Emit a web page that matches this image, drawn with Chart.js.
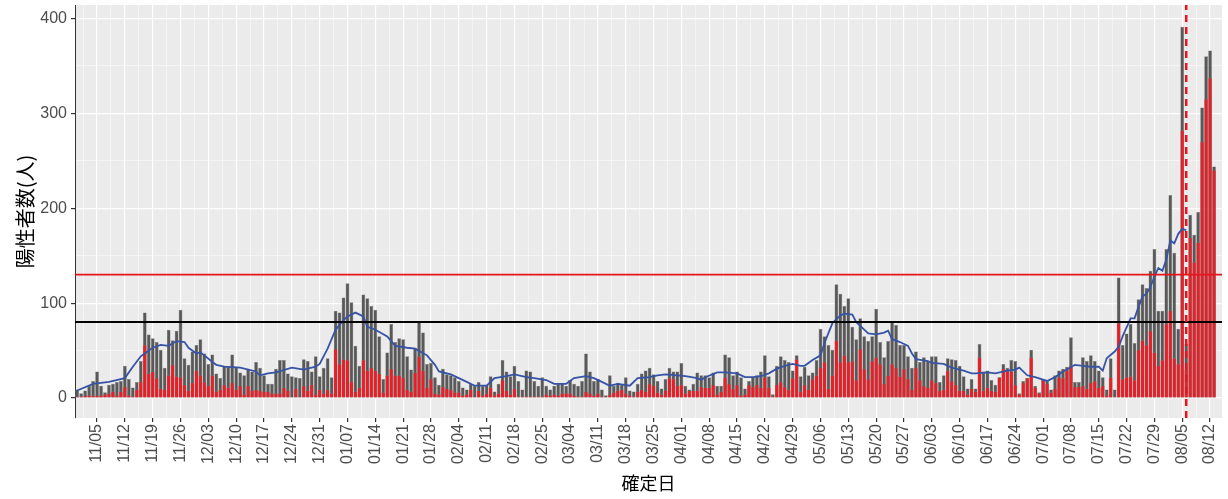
<!DOCTYPE html>
<html lang="ja">
<head>
<meta charset="utf-8">
<title>陽性者数</title>
<script src="https://cdn.jsdelivr.net/npm/chart.js@4.4.1/dist/chart.umd.min.js"></script>
<style>
  body { margin: 0; background: #fff; }
  canvas { display: block; }
</style>
</head>
<body>
<canvas id="chart" width="1228" height="499"></canvas>
<script>
// ---- data ----
var startDate = '2020-10-31';   // first bar
var dayCount = 287;             // 10/31 .. 08/13

// daily positives (grey bars)
var totalCases = [
  9,
  5,8,13,18,28,13,6,14,15,17, 18,34,20,11,17,39,90,67,63,59, 51,32,72,61,71,93,42,35,49,56,
  62,47,36,46,26,21,34,33,46,33, 27,24,31,28,38,32,24,15,15,31, 40,40,26,23,22,21,41,39,28,44, 23,
  32,42,22,92,90,106,121,101,55,34, 109,105,97,93,65,20,48,78,59,63, 62,44,30,53,80,69,36,37,22,14, 31,
  25,24,22,18,11,9,15,13,17,13, 14,23,7,15,40,28,23,34,18,9, 29,28,18,13,22,13,9,13,
  15,16,13,19,15,13,18,47,28,18, 20,9,3,24,13,16,14,22,8,7, 15,26,29,32,25,18,10,20,32,28, 28,
  37,13,9,15,27,24,24,22,27,13, 13,46,43,24,28,22,10,18,22,24, 28,45,23,4,34,44,40,38,29,45,
  23,33,24,27,40,73,65,56,51,120, 110,97,105,75,62,84,65,60,65,94, 59,43,60,81,77,56,56,44,32,49, 38,
  43,39,44,44,17,24,42,41,40,34, 23,10,20,10,57,28,29,19,14,22, 36,32,40,39,5,18,21,51,13,6,
  19,18,9,24,29,31,33,64,17,17, 43,39,45,39,29,22,9,42,9,127, 56,68,78,58,104,120,116,134,157,92, 92,
  157,214,153,73,391,57,193,172,196,306, 360,366,244
];

// red part of each bar
var redCases = [
  2,
  2,3,3,3,3,3,4,5,7,3, 7,12,3,2,9,17,56,26,28,21, 10,9,24,35,23,22,14,8,16,29,
  24,17,13,24,7,9,14,11,16,9, 13,4,13,8,9,8,7,7,5,5, 5,11,8,1,10,1,13,8,14,4, 9,
  5,9,5,52,36,41,40,17,7,11, 40,29,32,29,26,6,24,31,24,24, 22,9,7,27,44,29,11,20,5,4, 12,
  10,9,6,6,3,4,9,1,8,3, 5,11,3,5,19,8,4,10,2,2, 2,2,2,2,2,4,3,4,
  3,5,5,5,3,2,2,7,5,3, 5,2,1,4,6,8,9,5,3,2, 7,9,7,15,13,6,4,8,21,20, 13,
  14,5,8,8,8,12,11,11,14,4, 7,22,15,10,14,3,4,14,12,14, 11,22,11,2,14,17,12,9,21,41,
  7,14,9,20,24,32,38,10,24,61, 38,45,38,39,19,52,31,20,39,43, 36,15,24,36,32,23,31,20,9,32, 19,
  13,11,19,16,8,9,29,18,14,8, 8,4,10,7,43,8,11,8,7,22, 31,30,28,14,4,16,21,43,11,5,
  19,15,6,10,22,21,29,34,12,12, 13,10,16,18,11,13,3,22,1,79, 20,22,23,19,51,61,56,71,48,34, 40,
  78,92,42,36,282,30,169,143,164,270, 315,337,240
];

// blue average line, sampled points
var avgDates = ['10/31','11/04','11/08','11/12','11/14','11/16','11/17','11/19','11/21','11/23','11/25','11/27','11/28','11/30',
  '12/01','12/02','12/04','12/05','12/07','12/11','12/15','12/16','12/18','12/20','12/24','12/27','12/30','12/31',
  '01/02','01/04','01/06','01/07','01/09','01/11','01/12','01/14','01/17','01/19','01/22','01/24','01/27','01/29','01/30',
  '02/02','02/04','02/06','02/08','02/11','02/13','02/16','02/18','02/21','02/23','02/26','02/28',
  '03/03','03/05','03/08','03/10','03/12','03/14','03/16','03/19','03/21','03/24','03/26','03/28','03/31',
  '04/02','04/05','04/06','04/07','04/10','04/12','04/15','04/17','04/19','04/21','04/23','04/25','04/27','04/29',
  '05/01','05/02','05/04','05/06','05/07','05/09','05/11','05/12','05/14','05/15','05/17','05/18','05/20','05/22','05/23','05/24','05/26','05/28','05/29','05/30',
  '06/02','06/03','06/06','06/08','06/11','06/13','06/14','06/17','06/19','06/22','06/24','06/25','06/27','06/29',
  '07/02','07/04','07/06','07/07','07/09','07/11','07/13','07/15','07/16','07/17','07/19','07/20','07/21','07/23','07/24','07/25','07/26','07/27','07/28','07/29','07/30','07/31',
  '08/01','08/02','08/03','08/04','08/05','08/06'];
var avgValues = [8,15,17,21,33,44,47,53,56,55,60,59,53,47,
  48,45,38,35,33,32,28,24,26,27,32,30,33,36,
  52,72,82,86,90,86,75,72,65,55,53,52,45,35,28,
  25,21,17,13,13,21,23,25,22,21,19,15,
  15,21,23,21,17,13,15,13,21,22,24,25,24,
  23,21,19,22,27,27,26,22,22,23,26,31,34,36,
  34,34,40,45,58,79,87,89,88,80,72,68,67,69,71,62,59,55,47,41,
  39,37,36,32,29,26,26,27,26,29,30,32,24,22,
  18,22,28,30,35,34,33,33,29,42,49,54,65,84,84,96,107,110,117,128,137,134,
  146,166,163,173,178,177];

var tickLabels = ['11/05','11/12','11/19','11/26','12/03','12/10','12/17','12/24','12/31',
  '01/07','01/14','01/21','01/28','02/04','02/11','02/18','02/25','03/04','03/11','03/18','03/25',
  '04/01','04/08','04/15','04/22','04/29','05/06','05/13','05/20','05/27','06/03','06/10','06/17','06/24',
  '07/01','07/08','07/15','07/22','07/29','08/05','08/12'];

var blackLineValue = 80;
var redLineValue = 130;
var markerDate = '08/06';
var yTicks = [0, 50, 100, 150, 200, 250, 300, 350, 400];

// ---- build ----
var dates = [];
var d0 = new Date(startDate + 'T00:00:00Z');
for (var i = 0; i < dayCount; i++) {
    var d = new Date(d0.getTime() + i * 86400000);
    var mm = ('0' + (d.getUTCMonth() + 1)).slice(-2);
    var dd = ('0' + d.getUTCDate()).slice(-2);
    dates.push(mm + '/' + dd);
}
function dayIndex(label) { return dates.indexOf(label); }

var xMin = -0.55, xMax = 288;
var yMin = -21, yMax = 414;

var greyData = totalCases.map(function(v, i) { return {x: i, y: v}; });
var redData = redCases.map(function(v, i) { return {x: i, y: v}; });
var avgData = avgDates.map(function(lab, i) { return {x: dayIndex(lab), y: avgValues[i]}; });

// major ticks at weekly labels, minor ones half way between
var majorX = tickLabels.map(dayIndex);
var xTicks = [];
majorX.forEach(function(v) {
    if (v - 3.5 > xMin && xTicks.indexOf(v - 3.5) < 0) xTicks.push(v - 3.5);
    xTicks.push(v);
    if (v + 3.5 < xMax) xTicks.push(v + 3.5);
});

var panelBg = {
    id: 'panelBg',
    beforeDraw: function(chart) {
        var a = chart.chartArea, c = chart.ctx;
        c.save();
        c.fillStyle = '#ebebeb';
        c.fillRect(a.left, a.top, a.right - a.left, a.bottom - a.top);
        c.restore();
    }
};

var tickFont = {family: "'Liberation Sans', Arial, sans-serif", size: 16};
var cjkFamily = "'Noto Sans CJK JP', sans-serif";

var ctx = document.getElementById('chart').getContext('2d');
var myChart = new Chart(ctx, {
    type: 'bar',
    data: {
        datasets: [
            {
                label: 'total', data: greyData, order: 5, grouped: false,
                backgroundColor: '#595959', borderColor: '#808080', borderWidth: 0.5,
                barPercentage: 0.95, categoryPercentage: 1
            },
            {
                label: 'red', data: redData, order: 4, grouped: false,
                backgroundColor: '#ee1c24', borderColor: '#808080', borderWidth: 0.5,
                barPercentage: 0.95, categoryPercentage: 1
            },
            {
                type: 'line', label: 'avg', data: avgData, order: 3,
                borderColor: '#3653a6', borderWidth: 1.8, pointRadius: 0, tension: 0
            },
            {
                type: 'line', label: 'black', order: 2,
                data: [{x: xMin, y: blackLineValue}, {x: xMax, y: blackLineValue}],
                borderColor: '#000000', borderWidth: 2, pointRadius: 0
            },
            {
                type: 'line', label: 'redline', order: 1,
                data: [{x: xMin, y: redLineValue}, {x: xMax, y: redLineValue}],
                borderColor: '#e8141c', borderWidth: 1.6, pointRadius: 0
            },
            {
                type: 'line', label: 'marker', order: 0,
                data: [{x: dayIndex(markerDate), y: yMin}, {x: dayIndex(markerDate), y: yMax}],
                borderColor: '#e8141c', borderWidth: 2.5, borderDash: [7, 5], pointRadius: 0
            }
        ]
    },
    options: {
        responsive: false,
        animation: false,
        layout: {padding: {top: 5, right: 6, left: 0, bottom: 0}},
        plugins: {legend: {display: false}, tooltip: {enabled: false}},
        scales: {
            x: {
                type: 'linear', min: xMin, max: xMax, offset: false,
                afterBuildTicks: function(scale) {
                    scale.ticks = xTicks.map(function(v) { return {value: v}; });
                },
                afterFit: function(scale) {
                    scale.height = 81;
                    scale.paddingLeft = 0;
                    scale.paddingRight = 0;
                },
                grid: {
                    offset: false,
                    color: '#ffffff',
                    lineWidth: function(c) { return Number.isInteger(c.tick.value) ? 1.2 : 0.5; },
                    tickLength: 4,
                    tickColor: function(c) { return Number.isInteger(c.tick.value) ? '#333333' : 'rgba(0,0,0,0)'; }
                },
                border: {display: false},
                ticks: {
                    autoSkip: false, maxRotation: 90, minRotation: 90, padding: 2,
                    color: '#4d4d4d', font: tickFont,
                    callback: function(v) { return Number.isInteger(v) ? dates[v] : ''; }
                },
                title: {display: true, text: '確定日', color: '#000',
                        font: {family: cjkFamily, size: 18}, padding: {top: 0, bottom: 5}}
            },
            y: {
                min: yMin, max: yMax,
                afterBuildTicks: function(scale) {
                    scale.ticks = yTicks.map(function(v) { return {value: v}; });
                },
                afterFit: function(scale) {
                    scale.width = 75;
                    scale.paddingTop = 0;
                    scale.paddingBottom = 0;
                },
                grid: {
                    color: '#ffffff',
                    lineWidth: function(c) { return c.tick.value % 100 === 0 ? 1.2 : 0.5; },
                    tickLength: 4,
                    tickColor: function(c) { return c.tick.value % 100 === 0 ? '#333333' : 'rgba(0,0,0,0)'; }
                },
                border: {display: true, color: '#333333', width: 1},
                ticks: {
                    padding: 4, color: '#4d4d4d', font: tickFont,
                    callback: function(v) { return v % 100 === 0 ? v : ''; }
                },
                title: {display: true, text: '陽性者数(人)', color: '#000',
                        font: {family: cjkFamily, size: 20}, padding: {top: 13, bottom: 0}}
            }
        }
    },
    plugins: [panelBg]
});
</script>
</body>
</html>
